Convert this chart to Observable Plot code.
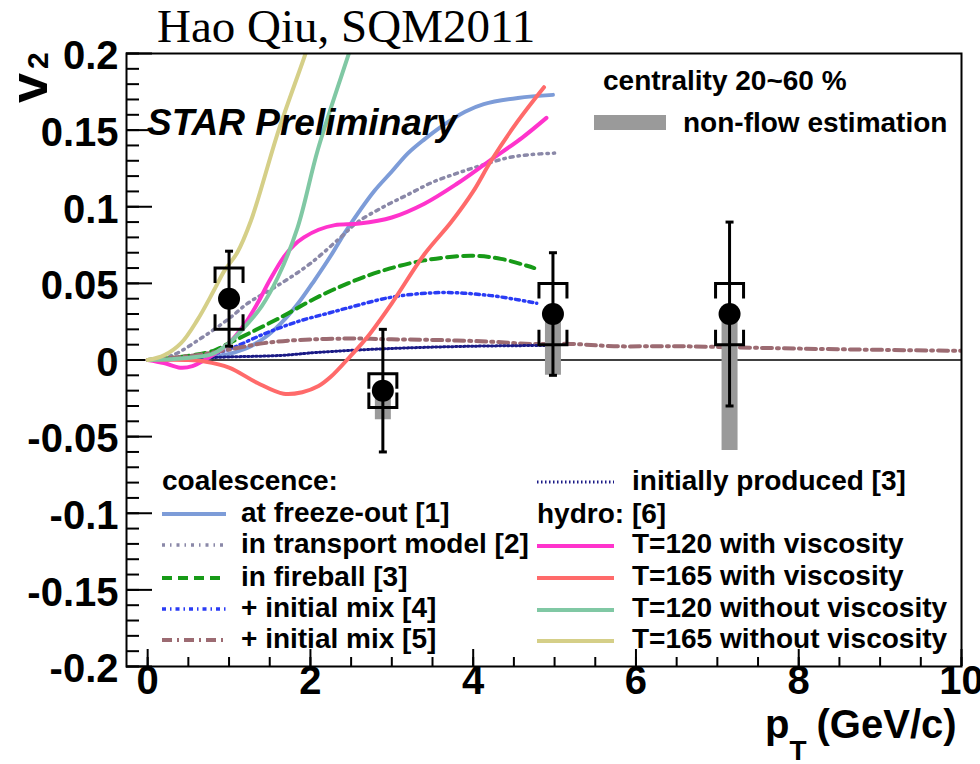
<!DOCTYPE html>
<html>
<head>
<meta charset="utf-8">
<script src="https://cdn.jsdelivr.net/npm/d3@7"></script>
<script src="https://cdn.jsdelivr.net/npm/@observablehq/plot@0.6"></script>
<style>
  html, body { margin: 0; padding: 0; background: #ffffff; }
  #chart svg { display: block; }
</style>
</head>
<body>
<div id="chart"></div>
<script>
// ---- measured points (STAR, centrality 20-60 %) ----
const ptPoints   = [1.0, 2.89, 4.98, 7.15];
const v2Points   = [0.040, -0.020, 0.030, 0.030];
const statErr    = [0.031, 0.040, 0.040, 0.060];
const sysErr     = [0.020, 0.011, 0.020, 0.020];
const nonFlowLow = [0.036, -0.039, -0.010, -0.059];

// ---- model curves: [pT, v2] ----
const coalFreezeOut = [[0,0],[0.5,0.001],[0.8,0.002],[1.0,0.004],[1.23,0.008],[1.45,0.015],[1.64,0.024],[1.85,0.037],[2.05,0.052],[2.25,0.068],[2.41,0.082],[2.6,0.097],[2.78,0.11],[3.0,0.123],[3.2,0.135],[3.4,0.144],[3.6,0.152],[3.9,0.162],[4.13,0.167],[4.55,0.171],[4.98,0.173]];
const coalTransport = [[0,0],[0.3,0.003],[0.65,0.014],[1.0,0.027],[1.23,0.037],[1.64,0.05],[2.0,0.063],[2.37,0.08],[2.58,0.09],[2.9,0.1],[3.2,0.108],[3.5,0.116],[3.81,0.122],[4.1,0.127],[4.43,0.132],[4.7,0.134],[5.0,0.135]];
const coalFireball  = [[0,0],[0.4,0.002],[0.81,0.006],[1.0,0.011],[1.23,0.017],[1.64,0.028],[2.05,0.04],[2.46,0.05],[2.87,0.058],[3.4,0.065],[3.97,0.068],[4.34,0.066],[4.75,0.06]];
const coalInitMix4  = [[0,0],[0.4,0.001],[0.81,0.004],[1.0,0.007],[1.43,0.017],[1.84,0.025],[2.25,0.031],[2.46,0.034],[3.0,0.041],[3.6,0.044],[4.22,0.042],[4.78,0.037]];
const coalInitMix5  = [[0,0],[0.4,0.002],[0.7,0.004],[1.02,0.007],[1.43,0.011],[1.84,0.013],[2.46,0.014],[3.0,0.0135],[3.6,0.013],[4.2,0.012],[4.71,0.0105],[5.2,0.0105],[5.73,0.009],[6.5,0.009],[7.45,0.008],[8.5,0.007],[10,0.006]];
const initProduced  = [[0,0],[0.5,0.001],[1.0,0.002],[1.64,0.003],[2.09,0.005],[2.99,0.0075],[4.0,0.009],[4.95,0.0095]];
const hydroT120Visc = [[0,0],[0.2,-0.002],[0.4,-0.005],[0.55,-0.004],[0.7,0],[0.85,0.005],[1.0,0.011],[1.2,0.024],[1.35,0.037],[1.5,0.052],[1.67,0.067],[1.8,0.075],[1.92,0.08],[2.1,0.085],[2.3,0.088],[2.6,0.089],[3.0,0.093],[3.4,0.102],[3.8,0.115],[4.2,0.13],[4.6,0.145],[4.9,0.158]];
const hydroT165Visc = [[0,0],[0.5,0],[0.7,-0.001],[1.0,-0.005],[1.35,-0.015],[1.67,-0.022],[1.9,-0.021],[2.1,-0.017],[2.25,-0.011],[2.5,0.003],[2.7,0.015],[3.0,0.037],[3.4,0.069],[3.73,0.09],[4.0,0.11],[4.22,0.13],[4.55,0.156],[4.87,0.178]];
const hydroT120Ideal = [[0,0],[0.4,0.001],[0.8,0.004],[1.0,0.011],[1.2,0.022],[1.4,0.035],[1.6,0.054],[1.84,0.086],[2.09,0.137],[2.41,0.19],[2.6,0.22]];
const hydroT165Ideal = [[0,0],[0.2,0.003],[0.41,0.011],[0.61,0.026],[0.81,0.045],[0.94,0.058],[1.1,0.07],[1.27,0.091],[1.61,0.15],[1.94,0.2],[2.05,0.218]];

// ---- axis ticks ----
const yMajorTicks = [-0.2, -0.15, -0.1, -0.05, 0, 0.05, 0.1, 0.15, 0.2];
const yTickLabels = ["-0.2", "-0.15", "-0.1", "-0.05", "0", "0.05", "0.1", "0.15", "0.2"];
const yMinorTicks = d3.range(-20, 21).map(i => i / 100);
const xMajorTicks = [0, 2, 4, 6, 8, 10];
const xTickLabels = ["0", "2", "4", "6", "8", "10"];
const xMinorTicks = d3.range(0, 21).map(i => i / 2);

// ---- legend texts ----
const legendLeftLabels  = ["at freeze-out [1]", "in transport model [2]", "in fireball [3]", "+ initial mix [4]", "+ initial mix [5]"];
const legendRightLabels = ["T=120 with viscosity", "T=165 with viscosity", "T=120 without viscosity", "T=165 without viscosity"];

// ---- series styling ----
const series = [
  {data: coalFreezeOut,  color: "#7d9cd8", width: 4,   dash: null},
  {data: coalTransport,  color: "#8a88a8", width: 3.5, dash: "3,5,1.5,5"},
  {data: coalFireball,   color: "#179a17", width: 4,   dash: "10,6"},
  {data: coalInitMix4,   color: "#2a3cf5", width: 3.5, dash: "4,4,1.5,4"},
  {data: coalInitMix5,   color: "#9c6b72", width: 4,   dash: "10,5,2,5"},
  {data: initProduced,   color: "#1a1a86", width: 3,   dash: "1.5,2.5"},
  {data: hydroT120Visc,  color: "#ff33cc", width: 4,   dash: null},
  {data: hydroT165Visc,  color: "#ff6a6a", width: 4,   dash: null},
  {data: hydroT120Ideal, color: "#80c8a4", width: 4,   dash: null},
  {data: hydroT165Ideal, color: "#d5cf88", width: 4,   dash: null}
];

const points = ptPoints.map((x, i) => ({
  x, v: v2Points[i], stat: statErr[i], sys: sysErr[i], nf: nonFlowLow[i]
}));

// bracket glyphs for systematic uncertainties, and caps for statistical bars
const bracketTop    = {draw(c) { c.moveTo(-14, 15); c.lineTo(-14, 0); c.lineTo(14, 0); c.lineTo(14, 15); }};
const bracketBottom = {draw(c) { c.moveTo(-14, -15); c.lineTo(-14, 0); c.lineTo(14, 0); c.lineTo(14, -15); }};
const cap           = {draw(c) { c.moveTo(-4, 0); c.lineTo(4, 0); }};

const W = 980, H = 764;
const M = {left: 126, right: 19, top: 53, bottom: 98};
const innerW = W - M.left - M.right;
const innerH = H - M.top - M.bottom;
const FONT = "'Liberation Sans', Arial, Helvetica, sans-serif";

const plot = Plot.plot({
  width: W,
  height: H,
  marginLeft: M.left,
  marginRight: M.right,
  marginTop: M.top,
  marginBottom: M.bottom,
  style: {background: "#ffffff"},
  x: {domain: [-0.26, 10], axis: null},
  y: {domain: [-0.2, 0.2], axis: null},
  marks: [
    // inward ticks
    Plot.ruleY(yMinorTicks, {y: d => d, insetRight: innerW - 13, stroke: "#000", strokeWidth: 2}),
    Plot.ruleY(yMajorTicks, {y: d => d, insetRight: innerW - 26, stroke: "#000", strokeWidth: 2}),
    Plot.ruleX(xMinorTicks, {x: d => d, insetTop: innerH - 9, stroke: "#000", strokeWidth: 2}),
    Plot.ruleX(xMajorTicks, {x: d => d, insetTop: innerH - 17, stroke: "#000", strokeWidth: 2}),
    // tick labels
    Plot.text(yMajorTicks, {y: d => d, text: (d, i) => yTickLabels[i], frameAnchor: "left", dx: -8, dy: 3,
      textAnchor: "end", fontSize: 40, fontWeight: "bold", fontFamily: FONT, fill: "#000"}),
    Plot.text(xMajorTicks, {x: d => d, text: (d, i) => xTickLabels[i], frameAnchor: "bottom", dy: 27,
      fontSize: 40, fontWeight: "bold", fontFamily: FONT, fill: "#000"}),
    // zero line
    Plot.ruleY([0], {stroke: "#000", strokeWidth: 1.5}),
    // model curves
    ...series.map(s => Plot.line(s.data, {
      x: d => d[0], y: d => d[1], stroke: s.color, strokeWidth: s.width,
      strokeDasharray: s.dash, curve: "catmull-rom", clip: true
    })),
    // non-flow estimation
    Plot.ruleX(points, {x: "x", y1: "v", y2: "nf", stroke: "#9a9a9a", strokeWidth: 16}),
    // statistical errors
    Plot.ruleX(points, {x: "x", y1: d => d.v - d.stat, y2: d => d.v + d.stat, stroke: "#000", strokeWidth: 3}),
    Plot.dot(points, {x: "x", y: d => d.v + d.stat, symbol: cap, fill: "none", stroke: "#000", strokeWidth: 3}),
    Plot.dot(points, {x: "x", y: d => d.v - d.stat, symbol: cap, fill: "none", stroke: "#000", strokeWidth: 3}),
    // systematic errors
    Plot.dot(points, {x: "x", y: d => d.v + d.sys, symbol: bracketTop, fill: "none", stroke: "#000", strokeWidth: 3}),
    Plot.dot(points, {x: "x", y: d => d.v - d.sys, symbol: bracketBottom, fill: "none", stroke: "#000", strokeWidth: 3}),
    // data points
    Plot.dot(points, {x: "x", y: "v", r: 11, fill: "#000", stroke: "none"}),
    Plot.frame({stroke: "#000", strokeWidth: 2})
  ]
});

document.getElementById("chart").appendChild(plot);

// ---- annotations and legends ----
const svg = d3.select(plot);
const g = svg.append("g")
  .attr("font-family", FONT)
  .attr("fill", "#000")
  .attr("text-anchor", "start");

function label(x, y, text, size, opts = {}) {
  return g.append("text")
    .attr("x", x).attr("y", y)
    .attr("font-size", size)
    .attr("font-weight", opts.weight || "bold")
    .attr("font-style", opts.style || "normal")
    .attr("font-family", opts.family || FONT)
    .attr("text-anchor", opts.anchor || "start")
    .text(text);
}

// title
label(157, 42, "Hao Qiu, SQM2011", 47, {weight: "normal", family: "'Liberation Serif', 'Times New Roman', serif"});
// preliminary tag
label(147, 135, "STAR Preliminary", 37, {style: "italic"});

// y axis title: v_2
const vt = g.append("text")
  .attr("transform", "translate(47,103) rotate(-90)")
  .attr("text-anchor", "start")
  .attr("font-size", 54).attr("font-weight", "bold");
vt.append("tspan").text("v");
vt.append("tspan").attr("font-size", 30).attr("dx", 4).attr("dy", 1).text("2");

// x axis title: p_T (GeV/c)
const xt = g.append("text")
  .attr("x", 765).attr("y", 738)
  .attr("text-anchor", "start")
  .attr("font-size", 40).attr("font-weight", "bold");
xt.append("tspan").text("p");
xt.append("tspan").attr("font-size", 28).attr("dy", 22).text("T");
xt.append("tspan").attr("dy", -22).attr("dx", 10).text("(GeV/c)");

// top-right legend
label(603, 90, "centrality 20~60 %", 28);
g.append("rect").attr("x", 594).attr("y", 115).attr("width", 72).attr("height", 15).attr("fill", "#9a9a9a");
label(683, 132, "non-flow estimation", 28);

// legend line sample
function sample(x1, x2, y, s) {
  g.append("line")
    .attr("x1", x1).attr("x2", x2).attr("y1", y).attr("y2", y)
    .attr("stroke", s.color).attr("stroke-width", s.width)
    .attr("stroke-dasharray", s.dash);
}

// bottom-left legend: coalescence models
label(162, 490, "coalescence:", 28);
const leftBase = [522, 553, 586, 617, 648];
legendLeftLabels.forEach((t, i) => {
  sample(162, 226, leftBase[i] - 8, series[i]);
  label(241, leftBase[i], t, 28);
});

// bottom-right legend: initially produced and hydro
sample(537, 614, 482, series[5]);
label(632, 490, "initially produced [3]", 28);
label(537, 523, "hydro: [6]", 28);
const rightBase = [553, 585, 617, 648];
legendRightLabels.forEach((t, i) => {
  sample(537, 614, rightBase[i] - 7, series[6 + i]);
  label(632, rightBase[i], t, 28);
});
</script>
</body>
</html>
